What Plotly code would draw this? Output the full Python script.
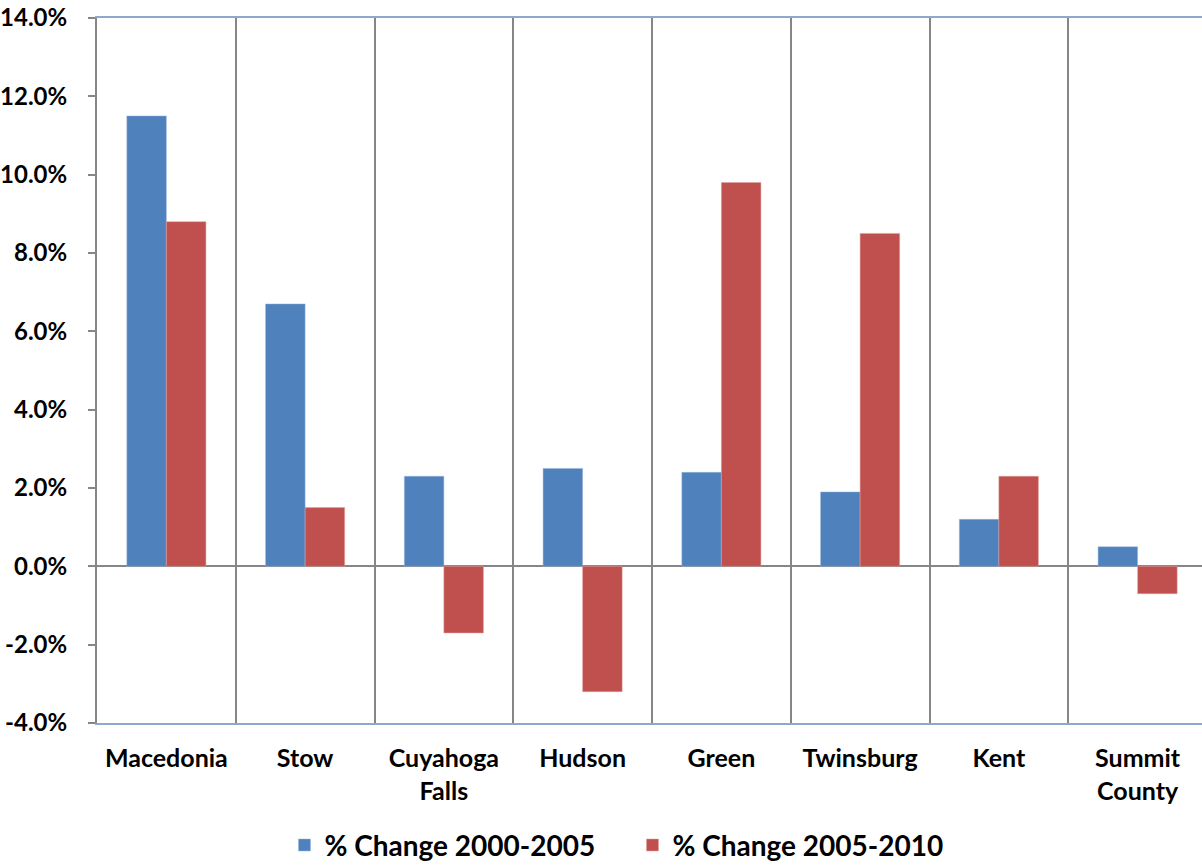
import plotly.graph_objects as go

categories = ["Macedonia", "Stow", "Cuyahoga<br>Falls", "Hudson", "Green",
              "Twinsburg", "Kent", "Summit<br>County"]
change_2000_2005 = [11.5, 6.7, 2.3, 2.5, 2.4, 1.9, 1.2, 0.5]
change_2005_2010 = [8.8, 1.5, -1.7, -3.2, 9.8, 8.5, 2.3, -0.7]
series_names = ["% Change 2000-2005", "% Change 2005-2010"]
tick_values = [-4, -2, 0, 2, 4, 6, 8, 10, 12, 14]
tick_labels = ["-4.0%", "-2.0%", "0.0%", "2.0%", "4.0%", "6.0%", "8.0%",
               "10.0%", "12.0%", "14.0%"]

FONT = "Lato"
fig = go.Figure()
fig.add_trace(go.Bar(x=categories, y=change_2000_2005, name=series_names[0],
                     marker=dict(color="#4F81BD", line=dict(color="#9DB7DB", width=0.5))))
fig.add_trace(go.Bar(x=categories, y=change_2005_2010, name=series_names[1],
                     marker=dict(color="#C0504D", line=dict(color="#E0A09E", width=0.5))))

fig.update_layout(
    width=1202, height=867,
    paper_bgcolor="white", plot_bgcolor="white",
    margin=dict(l=97, r=0, t=18, b=144, autoexpand=False),
    barmode="group", bargap=0.43, bargroupgap=0,
    font=dict(family=FONT, color="black"),
    legend=dict(orientation="h", x=0.4846, xanchor="center", y=-0.138, yanchor="top",
                font=dict(size=28, family=FONT, weight="bold"),
                itemwidth=30, traceorder="normal",
                entrywidth=303, entrywidthmode="pixels"),
)
fig.update_xaxes(
    type="category", range=[-0.5, 7.464], automargin=False,
    tickson="boundaries", showgrid=True, gridcolor="#868686", gridwidth=2,
    ticks="", showline=True, linecolor="#8EA9CF", linewidth=2, mirror=True,
    tickfont=dict(size=25, family=FONT, weight="bold"),
    ticklabelstandoff=12,
)
fig.update_yaxes(
    range=[-4, 14], tickvals=tick_values, ticktext=tick_labels, automargin=False,
    showgrid=False, zeroline=True, zerolinecolor="#868686", zerolinewidth=2,
    showline=True, linecolor="#868686", linewidth=2,
    ticks="outside", ticklen=7, tickcolor="#868686", tickwidth=2,
    tickfont=dict(size=24, family=FONT, weight="bold"),
    ticklabelstandoff=16,
)
fig.write_html("out.html", config={"displayModeBar": False},
               post_script="document.body.style.margin='0px';document.body.style.overflow='hidden';")
